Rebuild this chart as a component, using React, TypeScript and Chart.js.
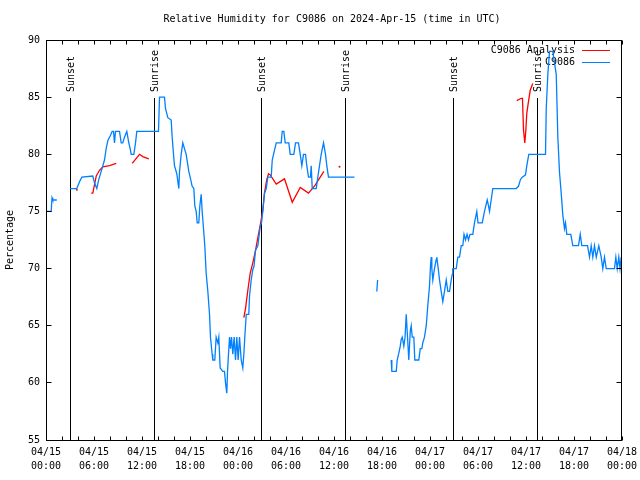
import React, { useEffect, useRef } from "react";
import { Chart, registerables } from "chart.js";

Chart.register(...registerables);

const titleText = "Relative Humidity for C9086 on 2024-Apr-15 (time in UTC)";
const yAxisTitle = "Percentage";
const xTickLabels = [
  ["04/15", "00:00"], ["04/15", "06:00"], ["04/15", "12:00"], ["04/15", "18:00"],
  ["04/16", "00:00"], ["04/16", "06:00"], ["04/16", "12:00"], ["04/16", "18:00"],
  ["04/17", "00:00"], ["04/17", "06:00"], ["04/17", "12:00"], ["04/17", "18:00"],
  ["04/18", "00:00"],
];
const yMin = 55;
const yMax = 90;
const hoursMax = 72;

const sunEventHours = [3.02, 13.52, 26.92, 37.42, 50.92, 61.42];
const sunEventLabels = ["Sunset", "Sunrise", "Sunset", "Sunrise", "Sunset", "Sunrise"];
const sunLineTop = 84.9;

const stationLabel = "C9086";
const analysisLabel = "C9086 Analysis";

// Observations (hours since 04/15 00:00 UTC, relative humidity %); null = gap
const obsHours = [
  0.0, 0.05, 0.65, 0.75, 0.85, 1.35, 2.0,
  3.03, 3.85, 4.19, 4.48, 5.85, 6.06, 6.35, 6.6, 6.9, 7.31, 7.52, 7.73, 8.02, 8.27, 8.44, 8.56, 8.69, 9.19,
  9.4, 9.6, 9.81, 10.1, 10.35, 10.52, 10.65, 10.98, 11.19, 11.35, 14.06, 14.19, 14.81, 14.94, 15.23, 15.65,
  15.77, 15.94, 16.06, 16.35, 16.6, 16.69, 16.9, 17.1, 17.31, 17.52, 17.85, 18.02, 18.27, 18.48, 18.6, 18.77,
  18.9, 19.1, 19.23, 19.4, 19.52, 19.69, 19.85, 20.02, 20.23, 20.44, 20.56, 20.77, 20.85, 21.1, 21.27, 21.48,
  21.6, 21.77, 22.1, 22.31, 22.44, 22.6, 22.69, 22.81, 22.94, 23.06, 23.19, 23.35, 23.52, 23.69, 23.85, 24.02,
  24.19, 24.4, 24.6, 24.73, 24.85, 25.03, 25.35, 25.44, 25.65, 25.85, 26.0, 26.19, 26.48, 26.78, 26.94, 27.1,
  27.31, 27.53, 27.73, 28.15, 28.28, 28.44, 28.78, 29.4, 29.53, 29.73, 29.9, 30.35, 30.53, 30.98, 31.19, 31.56,
  31.78, 31.98, 32.19, 32.44, 32.6, 32.81, 33.06, 33.15, 33.28, 33.78, 33.98, 34.19, 34.4, 34.69, 34.94, 35.1,
  35.31, 38.56, 40.0,
  41.35, 41.45, 42.5,
  43.15, 43.23, 43.78, 43.9, 44.1, 44.28, 44.4, 44.53, 44.73, 44.88, 45.03, 45.15, 45.35, 45.53, 45.65, 45.78,
  45.98, 46.1, 46.6, 46.78, 46.98, 47.1, 47.31, 47.53, 47.73, 47.94, 48.06, 48.15, 48.23, 48.35, 48.56, 48.78,
  48.85, 49.03, 49.19, 49.4, 49.6, 49.81, 50.03, 50.23, 50.44, 50.65, 50.78, 50.85, 51.28, 51.48, 51.69, 51.9,
  52.1, 52.25, 52.44, 52.63, 52.81, 53.0, 53.35, 53.56, 53.85, 54.0, 54.53, 54.81, 55.15, 55.31, 55.44, 55.65,
  55.85, 58.77, 59.06, 59.31, 59.53, 59.94, 60.1, 60.35, 62.44, 62.53, 62.73, 62.94, 63.35, 63.56, 63.78, 63.98,
  64.19, 64.4, 64.6, 64.81, 64.94, 65.1, 65.35, 65.6, 65.85, 66.56, 66.78, 66.98, 67.69, 67.94, 68.15, 68.35,
  68.56, 68.78, 69.1, 69.4, 69.6, 69.81, 70.03, 71.06, 71.23, 71.4, 71.6, 71.75, 71.9,
];
const obsValues = [
  76, 75, 75, 76.2, 76, 76, null,
  77, 77, 77.6, 78, 78.1, 77.5, 77, 77.8, 78.5, 79.5, 80.5, 81.2, 81.6, 82, 82, 81, 82, 82,
  81, 81, 81.5, 82, 81, 80.5, 80, 80, 81, 82, 82, 85, 85, 84, 83.2, 83,
  81.5, 80, 79, 78.3, 77, 78.5, 80, 81, 80.5, 80, 78.5, 78, 77.2, 77, 75.5, 75,
  74, 74, 75.5, 76.5, 75, 73.5, 72, 69.6, 68, 66, 64, 62.5, 62, 62, 64, 63.5,
  64, 61.3, 61, 61, 60, 59.1, 61, 62.5, 64, 63, 64, 62.5, 64, 62, 64, 62,
  64, 62, 61.3, 62.5, 64, 66, 66, 67.6, 69, 69.9, 70.2, 71.6, 72, 73.7, 74, 75,
  76.6, 77, 78, 78, 79.5, 80, 81, 81, 82, 82, 81, 81, 80, 80, 81, 81,
  80, 79, 80, 80, 79, 78, 78, 79, 77, 77, 78, 79, 80, 81, 80, 79,
  78, 78, null,
  68, 69, null,
  62, 61, 61, 62, 62.6, 63.2, 63.8, 64, 63.2, 64, 66, 64.5, 62, 64.5, 65, 64,
  64, 62, 62, 63, 63, 63.5, 64, 65, 66.8, 68.5, 70.2, 71, 70, 69, 70, 70.8,
  71, 70, 69, 68, 67.1, 68, 69, 68, 68, 69, 69.5, 70, 70, 71, 71, 72,
  72, 73, 72.5, 73, 72.5, 73, 73, 74, 75, 74, 74, 75, 76, 75.5, 75, 76,
  77, 77, 77.2, 77.8, 78, 78.2, 79, 80, 80, 84, 87, 89, 89, 88, 87, 81.5,
  78.4, 76.6, 74.7, 73.5, 74, 73, 73, 73, 72, 72, 73, 72, 72, 71, 72, 71,
  72, 71, 72, 71, 70, 71, 70, 70, 71, 70, 71, 70, 71,
];

// Analysis series; null = gap
const anaHours = [
  3.85, 4.2,
  5.65, 5.85, 6.28, 6.69, 7.1, 7.94, 8.78, 9.5,
  10.78, 11.69, 12.1, 12.85, 14.0,
  24.73, 24.94, 25.23, 25.53, 25.85, 26.19, 26.48, 26.78, 27.1, 27.31, 27.6, 27.81, 28.03, 28.78, 29.81, 30.78,
  31.78, 32.81, 33.65, 34.73, 35.5,
  36.69, 37.0,
  58.85, 59.4, 59.56, 59.69, 59.85, 59.98, 60.1, 60.35, 60.53, 60.85,
];
const anaValues = [
  76.9, null,
  76.6, 76.6, 78.1, 78.6, 78.9, 79.0, 79.2, null,
  79.2, 80.0, 79.8, 79.6, null,
  65.7, 66.5, 68.1, 69.6, 70.5, 71.6, 72.7, 73.8, 75.1, 76.6, 77.8, 78.3, 78.2, 77.4, 77.85, 75.8,
  77.1, 76.6, 77.3, 78.5, null,
  78.9, null,
  84.7, 84.9, 84.9, 82.1, 81.0, 82.1, 83.6, 84.8, 85.6, 86.2,
];

const obsColor = "#0080ff";
const anaColor = "#ff0000";
const FONT = "'DejaVu Sans Mono', monospace";

function isolatedRadius(values: (number | null)[]) {
  return (ctx: any) => {
    const i = ctx.dataIndex;
    if (values[i] == null) return 0;
    const prev = i > 0 ? values[i - 1] : null;
    const next = i < values.length - 1 ? values[i + 1] : null;
    return prev == null && next == null ? 1 : 0;
  };
}

const gnuplotPlugin = {
  id: "gnuplotDecor",
  beforeDatasetsDraw(chart: any) {
    const { ctx, chartArea, scales } = chart;
    const xs = scales.x;
    const ys = scales.y;
    ctx.save();
    ctx.strokeStyle = "#000";
    ctx.lineWidth = 1;
    ctx.fillStyle = "#000";
    ctx.font = `10px ${FONT}`;
    const topPx = Math.round(ys.getPixelForValue(sunLineTop));
    sunEventHours.forEach((h, i) => {
      const px = Math.floor(xs.getPixelForValue(h)) + 0.5;
      ctx.beginPath();
      ctx.moveTo(px, topPx);
      ctx.lineTo(px, Math.round(chartArea.bottom));
      ctx.stroke();
      ctx.save();
      ctx.translate(px + 0.5, topPx - 6);
      ctx.rotate(-Math.PI / 2);
      ctx.textAlign = "left";
      ctx.textBaseline = "middle";
      ctx.fillText(sunEventLabels[i], 0, 0);
      ctx.restore();
    });
    const right = Math.floor(chartArea.right);
    const items = [
      { label: chart.data.datasets[1].label, color: chart.data.datasets[1].borderColor, y: 50 },
      { label: chart.data.datasets[0].label, color: chart.data.datasets[0].borderColor, y: 62.5 },
    ];
    items.forEach((it) => {
      ctx.fillStyle = "#000";
      ctx.textAlign = "right";
      ctx.textBaseline = "middle";
      ctx.fillText(it.label, right - 47, it.y);
      ctx.strokeStyle = it.color;
      ctx.beginPath();
      ctx.moveTo(right - 40, Math.floor(it.y) + 0.5);
      ctx.lineTo(right - 12, Math.floor(it.y) + 0.5);
      ctx.stroke();
    });
    ctx.restore();
  },
  afterDraw(chart: any) {
    const { ctx, chartArea, scales } = chart;
    const xs = scales.x;
    const ys = scales.y;
    const L = Math.floor(chartArea.left) + 0.5;
    const R = Math.floor(chartArea.right) - 0.5;
    const T = Math.floor(chartArea.top) + 0.5;
    const B = Math.floor(chartArea.bottom) + 0.5;
    ctx.save();
    ctx.strokeStyle = "#000";
    ctx.lineWidth = 1;
    ctx.strokeRect(L, T, R - L, B - T);
    ctx.beginPath();
    for (let h = 0; h <= hoursMax; h += 2) {
      const px = Math.floor(xs.getPixelForValue(h)) + 0.5;
      ctx.moveTo(px, B);
      ctx.lineTo(px, B - 4);
      ctx.moveTo(px, T);
      ctx.lineTo(px, T + 4);
    }
    for (let v = yMin; v <= yMax; v += 5) {
      const py = Math.floor(ys.getPixelForValue(v)) + 0.5;
      ctx.moveTo(L, py);
      ctx.lineTo(L + 5, py);
      ctx.moveTo(R, py);
      ctx.lineTo(R - 5, py);
    }
    ctx.stroke();
    ctx.fillStyle = "#000";
    ctx.font = `10px ${FONT}`;
    ctx.textAlign = "center";
    ctx.textBaseline = "middle";
    ctx.fillText(titleText, 332, 19);
    ctx.save();
    ctx.translate(10, (chartArea.top + chartArea.bottom) / 2);
    ctx.rotate(-Math.PI / 2);
    ctx.fillText(yAxisTitle, 0, 0);
    ctx.restore();
    ctx.restore();
  },
};

export default function App() {
  const ref = useRef<HTMLCanvasElement | null>(null);
  useEffect(() => {
    if (!ref.current) return;
    const chart = new Chart(ref.current, {
      type: "line",
      data: {
        datasets: [
          {
            label: stationLabel,
            data: obsHours.map((h, i) => ({ x: h, y: obsValues[i] })),
            borderColor: obsColor,
            backgroundColor: obsColor,
            borderWidth: 1.3,
            pointRadius: isolatedRadius(obsValues),
            pointBorderWidth: 0,
            pointBackgroundColor: obsColor,
            tension: 0,
            spanGaps: false,
            fill: false,
          },
          {
            label: analysisLabel,
            data: anaHours.map((h, i) => ({ x: h, y: anaValues[i] })),
            borderColor: anaColor,
            backgroundColor: anaColor,
            borderWidth: 1.3,
            pointRadius: isolatedRadius(anaValues),
            pointBorderWidth: 0,
            pointBackgroundColor: anaColor,
            tension: 0,
            spanGaps: false,
            fill: false,
          },
        ],
      },
      options: {
        animation: false,
        responsive: false,
        devicePixelRatio: 1,
        layout: { padding: { top: 40, right: 18, left: 0, bottom: 0 } },
        plugins: { legend: { display: false }, tooltip: { enabled: false }, title: { display: false } },
        scales: {
          x: {
            type: "linear",
            min: 0,
            max: hoursMax,
            grid: { display: false, drawTicks: false },
            border: { display: false },
            afterFit: (s: any) => { s.height = 40; s.paddingLeft = 0; s.paddingRight = 0; },
            ticks: {
              stepSize: 6,
              autoSkip: false,
              maxRotation: 0,
              minRotation: 0,
              padding: 5,
              color: "#000",
              font: { family: FONT, size: 10, lineHeight: 1.4 },
              callback: (v: any) => xTickLabels[Math.round(Number(v) / 6)] ?? "",
            },
          },
          y: {
            type: "linear",
            min: yMin,
            max: yMax,
            grid: { display: false, drawTicks: false },
            border: { display: false },
            afterFit: (s: any) => { s.width = 46; },
            ticks: {
              stepSize: 5,
              padding: 6,
              color: "#000",
              font: { family: FONT, size: 10 },
              callback: (v: any) => String(v),
            },
          },
        },
      },
      plugins: [gnuplotPlugin],
    });
    return () => chart.destroy();
  }, []);
  return (
    <div style={{ position: "absolute", left: 0, top: 0, width: 640, height: 480, background: "#fff" }}>
      <canvas ref={ref} width={640} height={480} style={{ display: "block" }} />
    </div>
  );
}
